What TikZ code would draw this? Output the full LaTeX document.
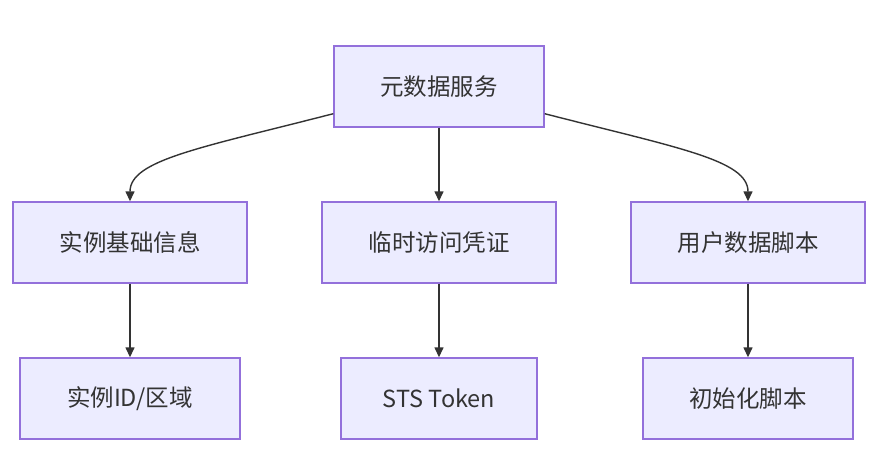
\documentclass[tikz,border=0pt]{standalone}
\usepackage{fontspec}
\setmainfont{Noto Sans CJK SC}
\usetikzlibrary{arrows.meta}
\definecolor{boxfill}{HTML}{ECECFF}
\definecolor{boxline}{HTML}{9370DB}
\definecolor{edgecol}{HTML}{333333}
\begin{document}
\begin{tikzpicture}[x=1pt,y=-1pt,
  box/.style={draw=boxline,fill=boxfill,line width=1.4pt,inner sep=0pt,
    minimum height=81pt,text=edgecol,font=\fontsize{23.5}{28}\selectfont},
  edge/.style={draw=edgecol,line width=1.4pt,-{Triangle[length=10pt,width=9pt]}}]
\useasboundingbox (0,0) rectangle (880,471);
\node[box,minimum width=210pt] (top) at (439,86.5) {元数据服务};
\node[box,minimum width=234pt] (l1) at (130,242.5) {实例基础信息};
\node[box,minimum width=234pt] (m1) at (439,242.5) {临时访问凭证};
\node[box,minimum width=234pt] (r1) at (748,242.5) {用户数据脚本};
\node[box,minimum width=220pt] (l2) at (130,398.5) {实例ID/区域};
\node[box,minimum width=196pt] (m2) at (439,398.5) {STS Token};
\node[box,minimum width=210pt] (r2) at (748,398.5) {初始化脚本};
\draw[edge] ([yshift=14pt]top.south west) .. controls (200,148) and (130,160) .. (l1.north);
\draw[edge] ([yshift=14pt]top.south east) .. controls (678,148) and (748,160) .. (r1.north);
\draw[edge] (top.south) -- (m1.north);
\draw[edge] (l1.south) -- (l2.north);
\draw[edge] (m1.south) -- (m2.north);
\draw[edge] (r1.south) -- (r2.north);
\end{tikzpicture}
\end{document}
